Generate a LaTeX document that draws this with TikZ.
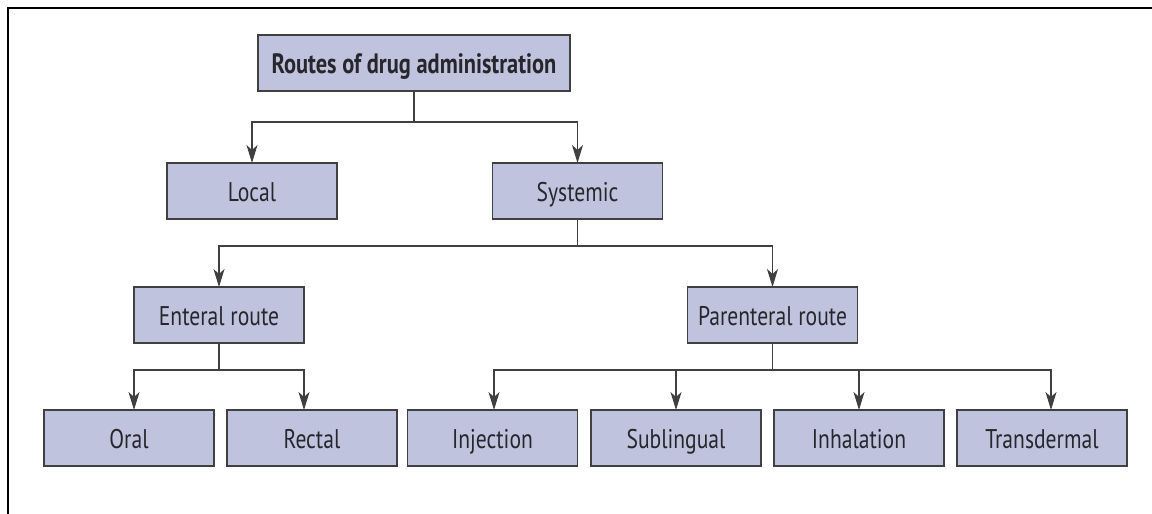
\documentclass[tikz,border=0pt]{standalone}
\usepackage{fontspec}
\setmainfont{PT Sans}[FakeStretch=0.8]
\usetikzlibrary{arrows.meta}
\definecolor{boxfill}{RGB}{191,195,222}
\definecolor{boxline}{RGB}{64,64,64}
\definecolor{ink}{RGB}{38,38,44}
\tikzset{ %inner sep = 0mm,
  {route/.style} ={draw=boxline, line width=0.8pt, fill=boxfill,
                   rectangle, inner sep=0, outer sep=0,
                   minimum width=85pt, minimum height=28pt,
                   text height=11pt, text depth=1pt,
                   text=ink, font=\fontsize{13.5}{15}\selectfont},
  {top route/.style} ={route, minimum width=156pt,
                   font=\fontsize{14}{16}\selectfont\bfseries},
  {link/.style} ={draw=boxline, line width=0.6pt},
  >={Stealth[length=9pt,width=5.5pt,inset=2.5pt]},
 }

\begin{document}
\begin{tikzpicture}[x=0.5pt,y=-0.5pt]
\useasboundingbox (0,0) rectangle (1152,514);
\draw[line width=1pt] (8,514) -- (8,8) -- (1152,8);

\node[top route] (root) at (414,63) {Routes of drug administration};

\node[route] (local) at (252,191) {Local};
\node[route] (sys) at (577.5,191) {Systemic};

\node[route] (ent) at (219,315) {Enteral route};
\node[route] (par) at (772.5,315) {Parenteral route};

\node[route] (oral) at (129,438) {Oral};
\node[route] (rect) at (312,438) {Rectal};
\node[route] (inj) at (492.5,438) {Injection};
\node[route] (sub) at (676,438) {Sublingual};
\node[route] (inh) at (859,438) {Inhalation};
\node[route] (tra) at (1042,438) {Transdermal};

\draw[link,->] (root.south) -- ++(0,31) -| (local.north);
\draw[link,->] (root.south) -- ++(0,31) -| (sys.north);

\draw[link,->] (sys.south) -- ++(0,27) -| (ent.north);
\draw[link,->] (sys.south) -- ++(0,27) -| (par.north);

\draw[link,->] (ent.south) -- ++(0,27) -| (ent.west |- oral.north);
\draw[link,->] (ent.south) -- ++(0,27) -| (ent.east |- rect.north);

\draw[link,->] (par.south) -- ++(0,27) -| ([xshift=0.75pt]inj.north);
\draw[link,->] (par.south) -- ++(0,27) -| (sub.north);
\draw[link,->] (par.south) -- ++(0,27) -| (inh.north);
\draw[link,->] (par.south) -- ++(0,27) -| ([xshift=4.5pt]tra.north);
\end{tikzpicture}
\end{document}
